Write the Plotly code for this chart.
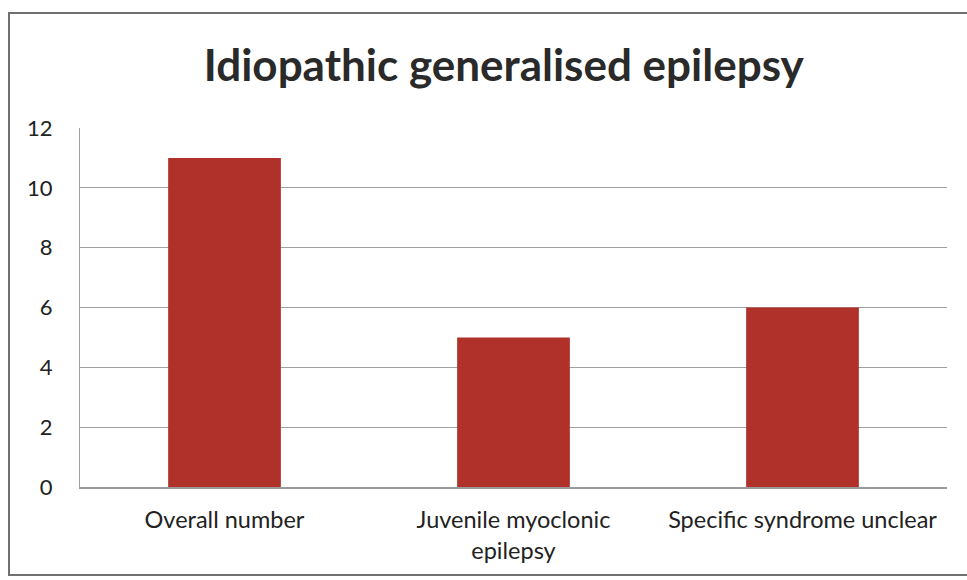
import plotly.graph_objects as go

categories = ["Overall number", "Juvenile myoclonic<br>epilepsy", "Specific syndrome unclear"]
values = [11, 5, 6]
y_ticks = [0, 2, 4, 6, 8, 10, 12]
title_text = "Idiopathic generalised epilepsy"

W, H = 967, 580
px = lambda x: x / W
py = lambda y: (H - y) / H

fig = go.Figure(go.Bar(
    x=categories, y=values,
    marker=dict(color="#B0302A", line=dict(width=0)),
    width=0.39,
))

fig.update_layout(
    width=W, height=H,
    margin=dict(l=0, r=0, t=0, b=0),
    paper_bgcolor="white", plot_bgcolor="white",
    font=dict(family="Lato, Open Sans, sans-serif", color="#222222", size=22),
    title=dict(text="<b>" + title_text + "</b>", x=0.521, xanchor="center",
               y=py(66), yanchor="middle",
               font=dict(size=44, color="#2a2a2a", family="Lato, sans-serif")),
    showlegend=False,
    xaxis=dict(domain=[px(80), px(947)], showline=True, linecolor="#9a9a9a",
               linewidth=1.5, ticks="", tickfont=dict(size=23.5), mirror=False,
               automargin=False, ticklabelstandoff=11),
    yaxis=dict(domain=[py(487), py(128)], range=[0, 12], tickvals=y_ticks,
               showgrid=True, gridcolor="#a0a0a0", gridwidth=1.2,
               showline=True, linecolor="#a0a0a0", linewidth=1.2,
               ticks="", tickfont=dict(size=22), ticklabelstandoff=22,
               zeroline=False, automargin=False),
    shapes=[dict(type="rect", xref="paper", yref="paper",
                 x0=px(9), x1=1.02, y0=py(575), y1=py(13),
                 line=dict(color="#707070", width=2), fillcolor="rgba(0,0,0,0)")],
)

fig.write_html("out.html")
